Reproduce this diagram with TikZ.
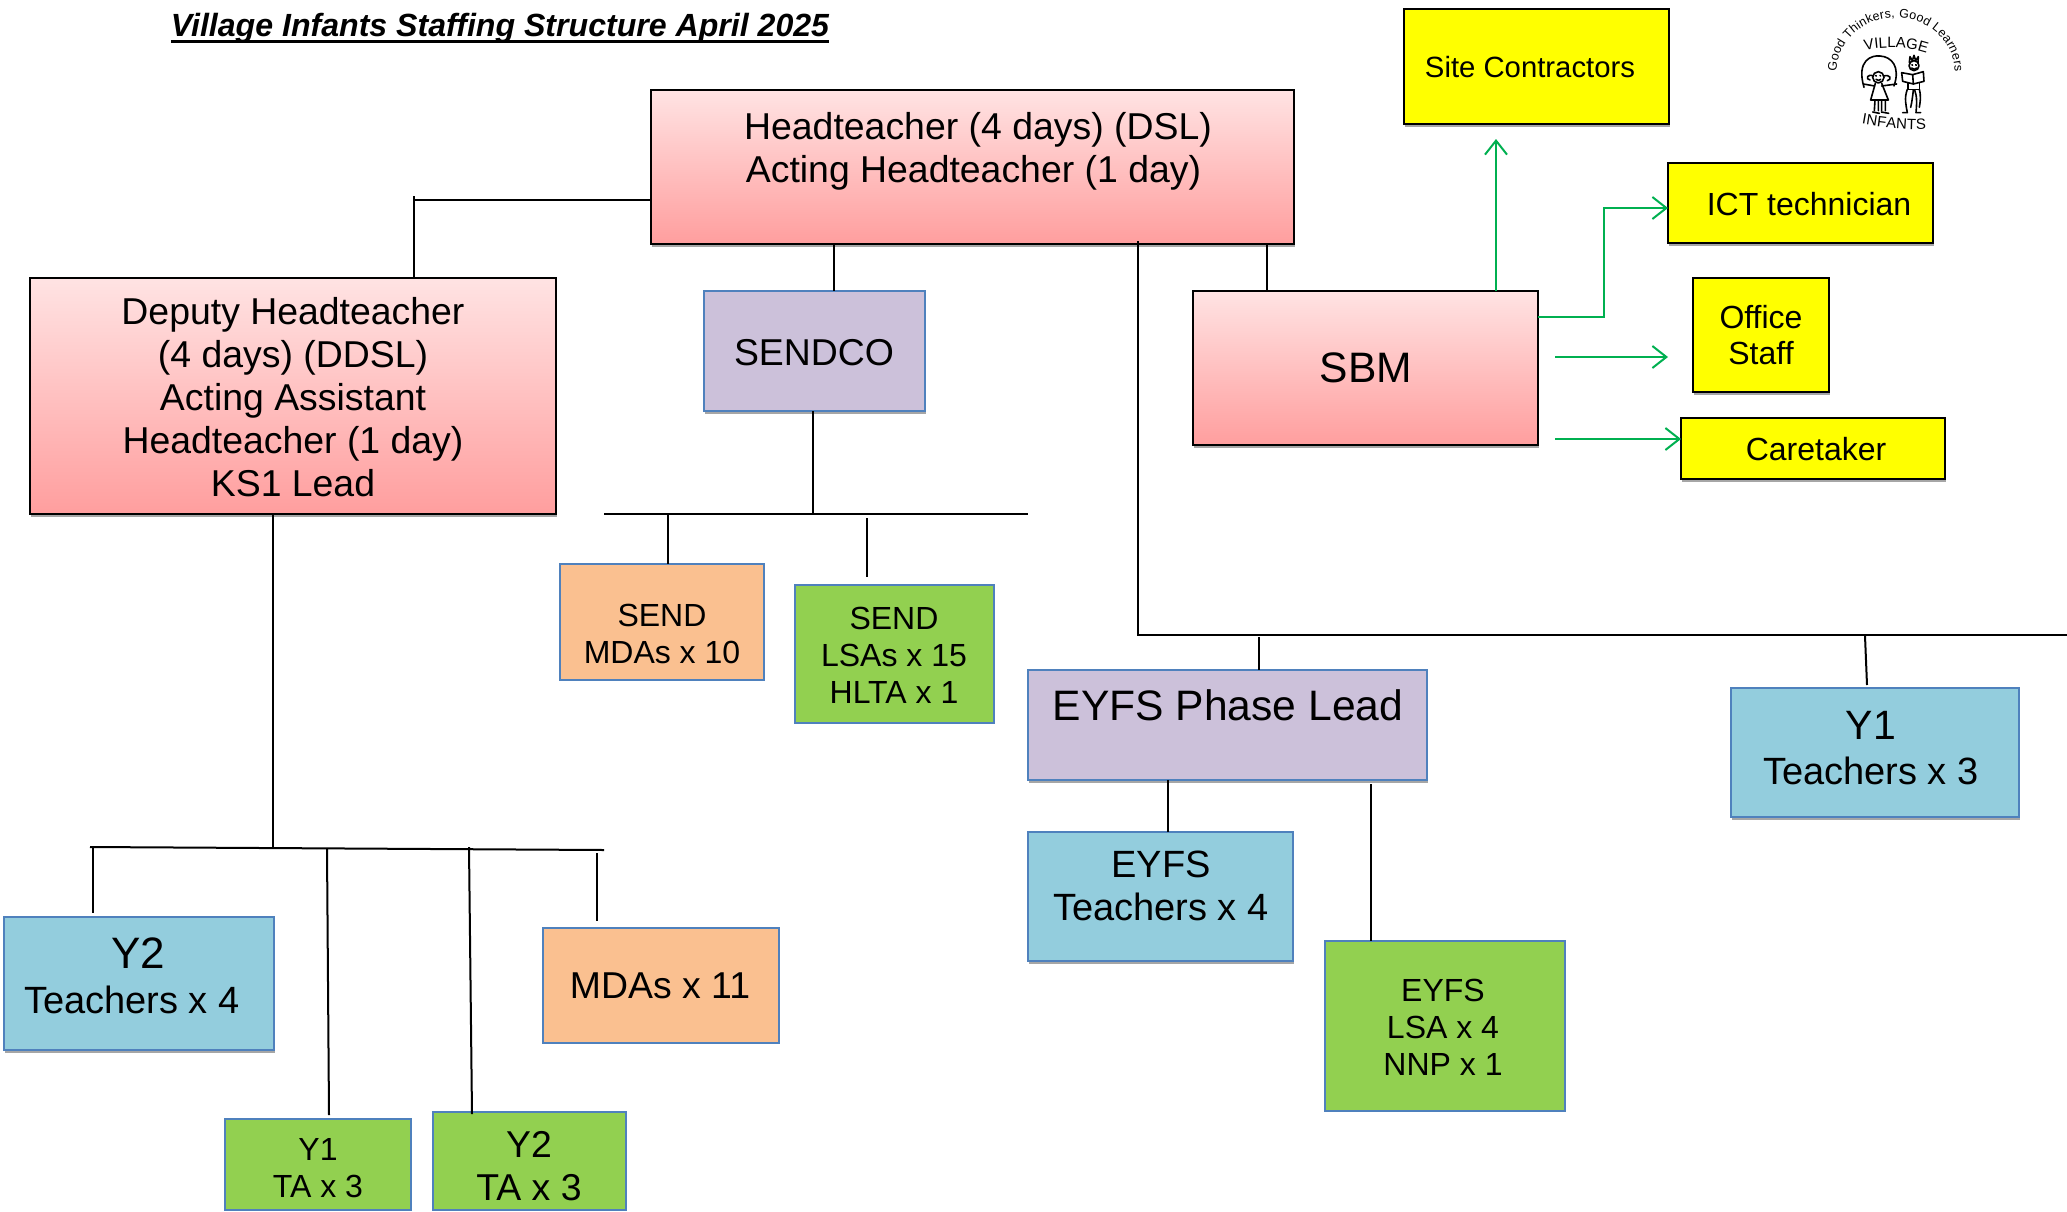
\documentclass[tikz,border=0pt]{standalone}
\usepackage{fontspec}
\setmainfont{Liberation Sans}
\usetikzlibrary{shadows,arrows.meta,decorations.text}
\newcommand{\fz}[2]{\fontsize{#1}{#2}\selectfont}
\newcommand{\ulin}[1]{\setbox0\hbox{#1}\rlap{\raisebox{-6pt}{\rule{\wd0}{2.6pt}}}\box0}
\newcommand{\bx}[9]{%
  \pgfmathsetmacro{\bxw}{#4-#2}\pgfmathsetmacro{\bxh}{#5-#3}%
  \pgfmathsetmacro{\bxx}{(#4+#2)/2}\pgfmathsetmacro{\bxy}{(#5+#3)/2}%
  \node[#6,minimum width=\bxw pt,minimum height=\bxh pt] (#1) at (\bxx,\bxy) {};
  \node[txt,font=#8] (#1-t) at (#7) {#9};
}
\definecolor{redtop}{HTML}{FFE3E3}
\definecolor{redbot}{HTML}{FF9E9E}
\definecolor{edge}{HTML}{4F81BD}
\definecolor{purp}{HTML}{CCC1DA}
\definecolor{blu}{HTML}{93CDDD}
\definecolor{grn}{HTML}{92D050}
\definecolor{org}{HTML}{FAC090}
\definecolor{gline}{HTML}{00B050}
\definecolor{yel}{RGB}{255,255,0}
\tikzset{
  basebox/.style={rectangle,inner sep=0pt,outer sep=0pt},
  shad/.style={drop shadow={shadow xshift=1pt,shadow yshift=-3pt,opacity=.35,fill=black}},
  redbox/.style={basebox,shad,draw=black,line width=2pt,top color=redtop,bottom color=redbot},
  yelbox/.style={basebox,shad,draw=black,line width=2pt,fill=yel},
  purbox/.style={basebox,shad,draw=edge,line width=2pt,fill=purp},
  blubox/.style={basebox,shad,draw=edge,line width=2pt,fill=blu},
  grnbox/.style={basebox,draw=edge,line width=2pt,fill=grn},
  orgbox/.style={basebox,draw=edge,line width=2pt,fill=org},
  txt/.style={align=center,inner sep=0pt,text=black},
  conn/.style={draw=black,line width=2pt},
  gconn/.style={draw=gline,line width=2pt,-{Straight Barb[length=14pt,width=22pt,line width=2pt]}},
  logo/.style={draw=black,line width=1.6pt,line cap=round,line join=round},
}
\begin{document}
\begin{tikzpicture}[x=1pt,y=-1pt]
\useasboundingbox (0,0) rectangle (2067,1211);
\node[txt,font=\fz{32.1}{37}\bfseries\itshape] (title) at (500,28.5) {\ulin{Village Infants Staffing Structure April 2025}};

\bx{head}{651}{90}{1294}{244}{redbox}{978,151}{\fz{37.4}{43}}{Headteacher (4 days) (DSL)\\Acting Headteacher (1 day)\hspace*{9pt}}
\bx{dep}{30}{278}{556}{514}{redbox}{293,397}{\fz{37.4}{43}}{Deputy Headteacher\\(4 days) (DDSL)\\Acting Assistant\\Headteacher (1 day)\\KS1 Lead}
\bx{sendco}{704}{291}{925}{411}{purbox}{814,353}{\fz{37.4}{43}}{SENDCO}
\bx{sbm}{1193}{291}{1538}{445}{redbox}{1366,368}{\fz{42.6}{49}}{SBM}
\bx{site}{1404}{9}{1669}{124}{yelbox}{1530,67}{\fz{29.3}{34}}{Site Contractors}
\bx{ict}{1668}{163}{1933}{243}{yelbox}{1809,204}{\fz{32}{37}}{ICT technician}
\bx{office}{1693}{278}{1829}{392}{yelbox}{1761,335}{\fz{32}{36}}{Office\\Staff}
\bx{care}{1681}{418}{1945}{479}{yelbox}{1816,449}{\fz{32}{37}}{Caretaker}
\bx{smda}{560}{564}{764}{680}{orgbox}{662,634}{\fz{32}{37}}{SEND\\MDAs x 10}
\bx{slsa}{795}{585}{994}{723}{grnbox}{894,655}{\fz{32}{37}}{SEND\\LSAs x 15\\HLTA x 1}
\bx{eyfs}{1028}{670}{1427}{780}{purbox}{1228,705}{\fz{42.6}{49}}{EYFS Phase Lead}
\bx{yot}{1731}{688}{2019}{817}{blubox}{1871,748}{\fz{38}{43}}{{\fz{41}{46}Y1}\\[2pt]Teachers x 3}
\bx{eyt}{1028}{832}{1293}{961}{blubox}{1161,886}{\fz{38}{43}}{EYFS\\Teachers x 4}
\bx{eyl}{1325}{941}{1565}{1111}{grnbox}{1443,1027}{\fz{32}{37}}{EYFS\\LSA x 4\\NNP x 1}
\bx{ytt}{4}{917}{274}{1050}{blubox}{132,976}{\fz{38}{43}}{\hspace*{12pt}{\fz{44}{46}Y2}\\[2pt]Teachers x 4}
\bx{mda}{543}{928}{779}{1043}{orgbox}{660,986}{\fz{37.4}{43}}{MDAs x 11}
\bx{yota}{225}{1119}{411}{1210}{grnbox}{318,1168}{\fz{32}{37}}{Y1\\TA x 3}
\bx{ytta}{433}{1112}{626}{1210}{grnbox}{529,1166}{\fz{37.4}{43}}{Y2\\TA x 3}

% named free ends and junctions
\coordinate (hl) at (651,200);
\coordinate (hlc) at (414,200);
\coordinate (hlt) at (414,196);
\coordinate (hs) at (834,244);
\coordinate (hb) at (1267,244);
\coordinate (hlong) at (1138,241);
\coordinate (busR) at (2067,635);
\coordinate (busRl) at (1138,635);
\coordinate (ey) at (1259,637);
\coordinate (yo) at (1865,636);
\coordinate (yoe) at (1867,685);
\coordinate (eyA) at (1168,780);
\coordinate (eyB) at (1371,784);
\coordinate (sd) at (813,411);
\coordinate (sbL) at (604,514);
\coordinate (sbR) at (1028,514);
\coordinate (sb1) at (668,514);
\coordinate (sb2) at (867,518);
\coordinate (sb2e) at (867,577);
\coordinate (dd) at (273,514);
\coordinate (dbL) at (90,847);
\coordinate (dbR) at (604,850);
\coordinate (d1) at (93,848);
\coordinate (d1e) at (93,913);
\coordinate (d2) at (327,849);
\coordinate (d2e) at (329,1115);
\coordinate (d3) at (469,847);
\coordinate (d3e) at (472,1114);
\coordinate (d4) at (597,853);
\coordinate (d4e) at (597,921);

\draw[conn] (hlt) -- (hlc |- dep.north);
\draw[conn] (hl) -- (hlc);
\draw[conn] (hs) -- (hs |- sendco.north);
\draw[conn] (hb) -- (hb |- sbm.north);
\draw[conn] (hlong) -- (busRl) -- (busR);
\draw[conn] (ey) -- (ey |- eyfs.north);
\draw[conn] (yo) -- (yoe);
\draw[conn] (eyA) -- (eyA |- eyt.north);
\draw[conn] (eyB) -- (eyB |- eyl.north);
\draw[conn] (sd) -- (sd |- sbL);
\draw[conn] (sbL) -- (sbR);
\draw[conn] (sb1) -- (sb1 |- smda.north);
\draw[conn] (sb2) -- (sb2e);
\draw[conn] (dd) -- (dd |- dbL);
\draw[conn] (dbL) -- (dbR);
\draw[conn] (d1) -- (d1e);
\draw[conn] (d2) -- (d2e);
\draw[conn] (d3) -- (d3e);
\draw[conn] (d4) -- (d4e);

% green arrows
\coordinate (gup) at (1496,291);
\coordinate (gupe) at (1496,139);
\coordinate (gi) at (1538,317);
\coordinate (gim) at (1604,317);
\coordinate (gie) at (1668,208);
\coordinate (goff) at (1555,357);
\coordinate (goffe) at (1668,357);
\coordinate (gca) at (1555,439);
\draw[gconn] (gup) -- (gupe);
\draw[gconn] (gi) -- (gim) |- (gie);
\draw[gconn] (goff) -- (goffe);
\draw[gconn] (gca) -- (gca -| care.west);

% logo
\begin{scope}[shift={(1780,0)},x=0.3333pt,y=-0.3333pt]
  \path[decorate,decoration={text along path,text align={fit to path},
    text={|\fz{12.5}{13}|Good Thinkers, Good Learners}}]
    (170,215) arc[start angle=180,end angle=360,x radius=177,y radius=162];
  \path[decorate,decoration={text along path,text align={fit to path},
    text={|\fz{15}{15}|VILLAGE}}]
    (255,152) .. controls (300,140) and (390,140) .. (438,158);
  \path[decorate,decoration={text along path,text align={fit to path},
    text={|\fz{15}{15}|INFANTS}}]
    (245,372) .. controls (300,382) and (380,392) .. (438,388);
  % girl
  \draw[logo] (252,262) .. controls (228,180) and (275,165) .. (300,168) .. controls (335,170) and (362,200) .. (342,258);
  \draw[logo] (295,232) circle[radius=17];
  \draw[logo] (280,228) .. controls (262,220) and (255,238) .. (270,240);
  \draw[logo] (311,228) .. controls (330,222) and (338,238) .. (322,242);
  \draw[logo] (284,258) -- (250,252) (305,258) -- (350,252);
  \draw[logo] (286,250) -- (272,300) -- (325,300) -- (305,250);
  \draw[logo] (285,300) -- (283,332) (295,300) -- (295,332) (305,300) -- (305,332) (316,300) -- (316,332);
  \draw[logo] (278,336) -- (298,340) (304,336) -- (326,340);
  \draw[logo] (287,226) -- (289,228) (300,226) -- (302,228) (288,238) .. controls (293,243) and (299,242) .. (302,238);
  % boy
  \draw[logo] (402,197) circle[radius=15];
  \draw[logo] (388,188) -- (390,170) -- (397,182) -- (402,166) -- (407,182) -- (415,170) -- (414,188);
  \draw[logo] (396,194) -- (398,196) (407,194) -- (409,196) (395,204) .. controls (400,210) and (406,209) .. (410,204);
  \draw[logo] (365,218) -- (398,224) -- (430,215) -- (432,244) -- (400,252) -- (368,244) -- cycle;
  \draw[logo] (398,224) -- (400,252);
  \draw[logo] (384,250) -- (384,268) -- (418,268) -- (418,248);
  \draw[logo] (382,268) .. controls (372,295) and (378,315) .. (382,338) -- (368,338);
  \draw[logo] (400,270) .. controls (398,290) and (395,310) .. (392,322);
  \draw[logo] (404,270) .. controls (412,290) and (410,315) .. (408,338) -- (422,338);
  \draw[logo] (418,268) .. controls (424,290) and (420,310) .. (418,322);
\end{scope}
\end{tikzpicture}
\end{document}
